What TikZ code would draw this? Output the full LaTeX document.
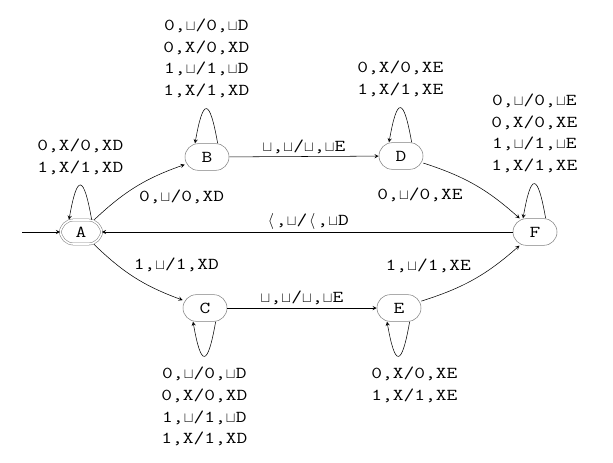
\documentclass[tikz,border=0pt]{standalone}
\usepackage{fontspec}
\usepackage{graphicx}
\setmonofont{Latin Modern Mono}[FakeStretch=1.25]
\usetikzlibrary{arrows}

\newcommand{\blanksym}{\makebox[0.6em]{\scalebox{0.9}{$\sqcup$}}}
\newcommand{\leftang}{\makebox[0.6em]{$\langle$}}

\begin{document}
\begin{tikzpicture}[
            x=0.75pt, y=0.75pt,
            >=stealth,
            font=\ttfamily\fontsize{12.5}{16.3}\selectfont,
            state/.style={draw=gray, rounded corners=10pt, minimum width=33pt, minimum height=20pt, inner sep=1pt},
            trans/.style={->},
            lbl/.style={align=center, inner sep=2pt}
        ]
            \useasboundingbox (0,0) rectangle (613,462);

            \node[state, double, double distance=1.2pt, minimum width=31pt, minimum height=18pt] (A) at (81,230) {A};
            \node[state] (B) at (207,305) {B};
            \node[state] (C) at (205,154) {C};
            \node[state] (D) at (401,306) {D};
            \node[state] (E) at (399,154) {E};
            \node[state] (F) at (535,230) {F};
            \coordinate (init) at (22,230);

            \draw[trans] (init) -- (A);
            \draw[trans] (A) to[bend left=12] node[lbl, pos=0.5, below right] {0,\blanksym/0,XD} (B);
            \draw[trans] (A) to[bend right=12] node[lbl, pos=0.45, above right] {1,\blanksym/1,XD} (C);
            \draw[trans] (B) -- node[lbl, above] {\blanksym,\blanksym/\blanksym,\blanksym E} (D);
            \draw[trans] (C) -- node[lbl, above] {\blanksym,\blanksym/\blanksym,\blanksym E} (E);
            \draw[trans] (D) to[bend left=12] node[lbl, pos=0.5, below left, xshift=-7pt] {0,\blanksym/0,XE} (F);
            \draw[trans] (E) to[bend right=12] node[lbl, pos=0.5, above left, yshift=3pt] {1,\blanksym/1,XE} (F);
            \draw[trans] (F) -- node[lbl, above] {\leftang,\blanksym/\leftang,\blanksym D} (A);

            % self loops
            \draw[trans] ([xshift=8pt]A.north) to[out=100, in=80, distance=35pt]
                node[lbl, above=6pt] {0,X/0,XD\\1,X/1,XD} ([xshift=-9pt]A.north);
            \draw[trans] ([xshift=8pt]B.north) to[out=100, in=80, distance=35pt]
                node[lbl, above=6pt] {0,\blanksym/0,\blanksym D\\0,X/0,XD\\1,\blanksym/1,\blanksym D\\1,X/1,XD} ([xshift=-9pt]B.north);
            \draw[trans] ([xshift=8pt]D.north) to[out=100, in=80, distance=35pt]
                node[lbl, above=6pt] {0,X/0,XE\\1,X/1,XE} ([xshift=-9pt]D.north);
            \draw[trans] ([xshift=8pt]F.north) to[out=100, in=80, distance=35pt]
                node[lbl, above=6pt] {0,\blanksym/0,\blanksym E\\0,X/0,XE\\1,\blanksym/1,\blanksym E\\1,X/1,XE} ([xshift=-9pt]F.north);
            \draw[trans] ([xshift=8pt]C.south) to[out=-100, in=-80, distance=35pt]
                node[lbl, below=6pt] {0,\blanksym/0,\blanksym D\\0,X/0,XD\\1,\blanksym/1,\blanksym D\\1,X/1,XD} ([xshift=-9pt]C.south);
            \draw[trans] ([xshift=8pt]E.south) to[out=-100, in=-80, distance=35pt]
                node[lbl, below=6pt, xshift=12pt] {0,X/0,XE\\1,X/1,XE} ([xshift=-9pt]E.south);

        \end{tikzpicture}
\end{document}
